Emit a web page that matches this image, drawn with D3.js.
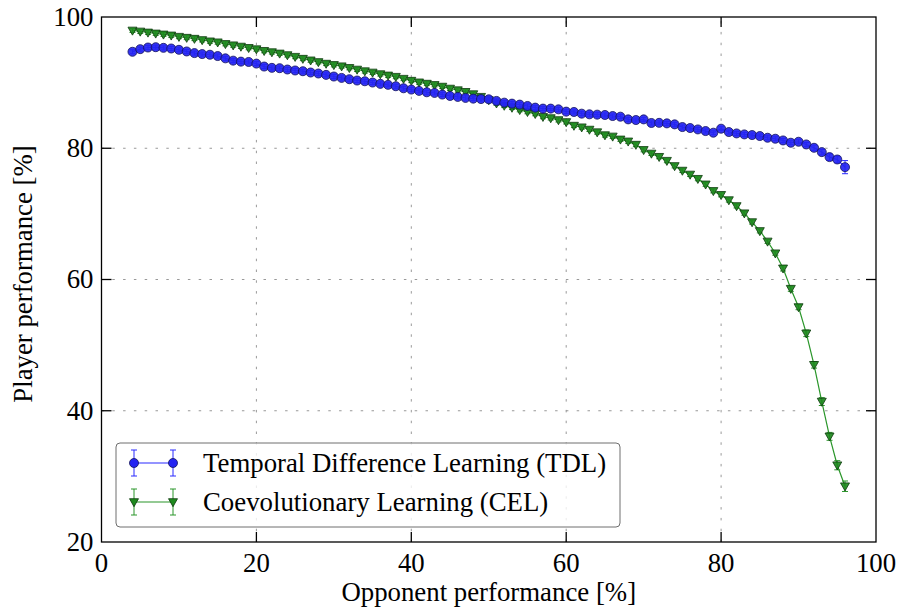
<!doctype html>
<html lang="en">
<head>
  <meta charset="utf-8">
  <title>Player vs opponent performance</title>
  <script src="https://d3js.org/d3.v7.min.js"></script>
  <style>
    body { margin: 0; background: #fff; }
    text { font-family: "Liberation Serif", "Times New Roman", serif; fill: #000; }
  </style>
</head>
<body>
<div class="chart-container"></div>
<script>
  // opponent performance [%], one point per percent
  const opponent = [
    4, 5, 6, 7, 8, 9, 10, 11, 12, 13, 14, 15, 16, 17, 18, 19, 20, 21, 22, 23, 24, 25,
    26, 27, 28, 29, 30, 31, 32, 33, 34, 35, 36, 37, 38, 39, 40, 41, 42, 43, 44, 45,
    46, 47, 48, 49, 50, 51, 52, 53, 54, 55, 56, 57, 58, 59, 60, 61, 62, 63, 64, 65,
    66, 67, 68, 69, 70, 71, 72, 73, 74, 75, 76, 77, 78, 79, 80, 81, 82, 83, 84, 85,
    86, 87, 88, 89, 90, 91, 92, 93, 94, 95, 96
  ];

  const tdl = [
    94.7, 95.1, 95.35, 95.4, 95.3, 95.2, 95.0, 94.75, 94.5, 94.35, 94.25, 94.05, 93.7, 93.35, 93.2, 93.15,
    92.9, 92.45, 92.25, 92.2, 92.0, 91.85, 91.74, 91.54, 91.39, 91.18, 90.93, 90.72, 90.52, 90.32, 90.21,
    90.01, 89.81, 89.66, 89.45, 89.14, 88.94, 88.74, 88.53, 88.43, 88.18, 87.97, 87.82, 87.67, 87.56, 87.5,
    87.46, 87.21, 86.95, 86.8, 86.65, 86.44, 86.19, 86.04, 86.04, 85.93, 85.58, 85.53, 85.27, 85.17, 85.12,
    85.07, 84.91, 84.81, 84.4, 84.3, 84.4, 83.85, 83.87, 83.79, 83.64, 83.23, 83.08, 82.87, 82.62, 82.37,
    82.98, 82.47, 82.26, 82.11, 82.01, 81.86, 81.6, 81.45, 81.19, 80.84, 80.99, 80.58, 80.07, 79.41, 78.65,
    78.29, 77.12
  ];

  const cel = [
    97.95, 97.8, 97.65, 97.5, 97.35, 97.2, 97.0, 96.85, 96.7, 96.5, 96.3, 96.15, 95.9, 95.7, 95.5, 95.3,
    95.1, 94.85, 94.65, 94.45, 94.2, 93.95, 93.65, 93.4, 93.15, 92.9, 92.7, 92.5, 92.25, 92.0, 91.75,
    91.55, 91.3, 91.1, 90.9, 90.6, 90.3, 90.05, 89.85, 89.65, 89.4, 89.1, 88.85, 88.6, 88.25, 87.85,
    87.35, 86.85, 86.5, 86.2, 85.85, 85.55, 85.25, 84.8, 84.6, 84.3, 84.0, 83.45, 83.2, 82.85, 82.45,
    82.0, 81.8, 81.35, 81.05, 80.55, 79.75, 79.2, 78.7, 78.1, 77.3, 76.6, 76.0, 75.35, 74.5, 73.5,
    72.9, 72.1, 71.2, 70.1, 68.75, 67.4, 65.8, 64.0, 61.7, 58.6, 55.8, 51.8, 47.0, 41.4, 36.1,
    31.7, 28.5
  ];

  // half widths of the error bars
  const tdlErr = [
    0.3, 0.3, 0.3, 0.3, 0.3, 0.3, 0.3, 0.3, 0.3, 0.3, 0.3, 0.3, 0.3, 0.3, 0.3, 0.3,
    0.3, 0.3, 0.3, 0.3, 0.3, 0.3, 0.3, 0.3, 0.3, 0.3, 0.3, 0.3, 0.3, 0.3, 0.3,
    0.3, 0.3, 0.3, 0.3, 0.3, 0.3, 0.3, 0.3, 0.3, 0.3, 0.3, 0.3, 0.3, 0.3, 0.3,
    0.3, 0.3, 0.3, 0.3, 0.3, 0.3, 0.3, 0.3, 0.3, 0.3, 0.3, 0.3, 0.3, 0.3, 0.3,
    0.3, 0.3, 0.3, 0.3, 0.3, 0.3, 0.3, 0.3, 0.3, 0.3, 0.3, 0.3, 0.3, 0.3, 0.3,
    0.3, 0.3, 0.3, 0.3, 0.3, 0.3, 0.3, 0.3, 0.3, 0.3, 0.3, 0.3, 0.4, 0.4, 0.5,
    0.5, 1.0
  ];

  const celErr = [
    0.3, 0.3, 0.3, 0.3, 0.3, 0.3, 0.3, 0.3, 0.3, 0.3, 0.3, 0.3, 0.3, 0.3, 0.3, 0.3,
    0.3, 0.3, 0.3, 0.3, 0.3, 0.3, 0.3, 0.3, 0.3, 0.3, 0.3, 0.3, 0.3, 0.3, 0.3,
    0.3, 0.3, 0.3, 0.3, 0.3, 0.3, 0.3, 0.3, 0.3, 0.3, 0.3, 0.3, 0.3, 0.3, 0.3,
    0.3, 0.3, 0.3, 0.3, 0.3, 0.3, 0.3, 0.3, 0.3, 0.3, 0.3, 0.3, 0.3, 0.3, 0.3,
    0.3, 0.3, 0.3, 0.3, 0.3, 0.3, 0.3, 0.3, 0.3, 0.3, 0.3, 0.3, 0.3, 0.3, 0.3,
    0.3, 0.3, 0.3, 0.3, 0.3, 0.3, 0.3, 0.3, 0.4, 0.4, 0.4, 0.5, 0.5, 0.6, 0.6,
    0.7, 0.8
  ];

  const xTicks = [0, 20, 40, 60, 80, 100];
  const yTicks = [20, 40, 60, 80, 100];
  const seriesNames = ['Temporal Difference Learning (TDL)', 'Coevolutionary Learning (CEL)'];

  const width = 897;
  const height = 610;
  const margin = { top: 17, right: 21, bottom: 68, left: 101.5 };
  const fontSize = 26.8;

  const svg = d3.select('.chart-container').append('svg')
    .attr('width', width)
    .attr('height', height);

  const x = d3.scaleLinear()
    .domain([0, 100])
    .range([margin.left, width - margin.right]);

  const y = d3.scaleLinear()
    .domain([20, 100])
    .range([height - margin.bottom, margin.top]);

  const series = [
    { name: seriesNames[0], values: tdl, err: tdlErr, colour: '#2424f2', lineColour: '#2a2aff', edge: '#14145a', marker: 'circle' },
    { name: seriesNames[1], values: cel, err: celErr, colour: '#1e8a1e', lineColour: '#2a962a', edge: '#0d3a0d', marker: 'triangle' }
  ];
  series.forEach(s => {
    s.points = opponent.map((o, i) => ({ x: o, y: s.values[i], e: s.err[i] }));
  });

  // dotted grid
  const grid = svg.append('g').attr('class', 'grid')
    .attr('stroke', '#999')
    .attr('stroke-width', 1)
    .attr('stroke-dasharray', '2.5,8.3');
  grid.selectAll('line.gx')
    .data(xTicks.slice(1, -1))
    .enter()
    .append('line')
    .attr('x1', d => x(d)).attr('x2', d => x(d))
    .attr('y1', y(20)).attr('y2', y(100));
  grid.selectAll('line.gy')
    .data(yTicks.slice(1, -1))
    .enter()
    .append('line')
    .attr('y1', d => y(d)).attr('y2', d => y(d))
    .attr('x1', x(0)).attr('x2', x(100));

  const line = d3.line().x(d => x(d.x)).y(d => y(d.y));

  const markerPath = (kind) => kind === 'circle'
    ? d3.symbol().type(d3.symbolCircle).size(64)()
    : 'M-4.5,-3.3L4.5,-3.3L0,4.7Z';

  const drawErr = (g, pts, colour) => {
    const cap = 3;
    pts.forEach(p => {
      const y0 = y(p.y - p.e);
      const y1 = y(p.y + p.e);
      g.append('line').attr('x1', x(p.x)).attr('x2', x(p.x)).attr('y1', y0).attr('y2', y1)
        .attr('stroke', colour).attr('stroke-width', 1);
      g.append('line').attr('x1', x(p.x) - cap).attr('x2', x(p.x) + cap).attr('y1', y0).attr('y2', y0)
        .attr('stroke', colour).attr('stroke-width', 1);
      g.append('line').attr('x1', x(p.x) - cap).attr('x2', x(p.x) + cap).attr('y1', y1).attr('y2', y1)
        .attr('stroke', colour).attr('stroke-width', 1);
    });
  };

  // CEL first, TDL drawn over it
  series.slice().reverse().forEach(s => {
    const g = svg.append('g').attr('class', 'series');
    g.append('path')
      .datum(s.points)
      .attr('fill', 'none')
      .attr('stroke', s.lineColour)
      .attr('stroke-width', 1.2)
      .attr('d', line);
    drawErr(g, s.points, s.lineColour);
    g.selectAll('path.marker')
      .data(s.points)
      .enter()
      .append('path')
      .attr('class', 'marker')
      .attr('transform', d => `translate(${x(d.x)},${y(d.y)})`)
      .attr('d', markerPath(s.marker))
      .attr('fill', s.colour)
      .attr('fill-opacity', 0.92)
      .attr('stroke', s.edge)
      .attr('stroke-width', 0.8);
  });

  // frame and inward ticks on all sides
  const tickLen = 10;
  const axes = svg.append('g').attr('class', 'axes').attr('stroke', '#000').attr('stroke-width', 1.3);
  axes.append('rect')
    .attr('x', x(0)).attr('y', y(100))
    .attr('width', x(100) - x(0)).attr('height', y(20) - y(100))
    .attr('fill', 'none');
  axes.selectAll('line.tx')
    .data(xTicks.slice(1, -1))
    .enter()
    .append('line')
    .attr('x1', d => x(d)).attr('x2', d => x(d))
    .attr('y1', y(20)).attr('y2', y(20) - tickLen);
  axes.selectAll('line.tx2')
    .data(xTicks.slice(1, -1))
    .enter()
    .append('line')
    .attr('x1', d => x(d)).attr('x2', d => x(d))
    .attr('y1', y(100)).attr('y2', y(100) + tickLen);
  axes.selectAll('line.ty')
    .data(yTicks.slice(1, -1))
    .enter()
    .append('line')
    .attr('y1', d => y(d)).attr('y2', d => y(d))
    .attr('x1', x(0)).attr('x2', x(0) + tickLen);
  axes.selectAll('line.ty2')
    .data(yTicks.slice(1, -1))
    .enter()
    .append('line')
    .attr('y1', d => y(d)).attr('y2', d => y(d))
    .attr('x1', x(100)).attr('x2', x(100) - tickLen);

  svg.selectAll('text.xtick')
    .data(xTicks)
    .enter()
    .append('text')
    .attr('class', 'xtick')
    .attr('x', d => x(d))
    .attr('y', y(20) + 30)
    .style('text-anchor', 'middle')
    .style('font-size', fontSize + 'px')
    .text(d => d);

  svg.selectAll('text.ytick')
    .data(yTicks)
    .enter()
    .append('text')
    .attr('class', 'ytick')
    .attr('x', x(0) - 8)
    .attr('y', d => y(d))
    .attr('dy', '0.33em')
    .style('text-anchor', 'end')
    .style('font-size', fontSize + 'px')
    .text(d => d);

  svg.append('text')
    .attr('x', (x(0) + x(100)) / 2)
    .attr('y', height - 9)
    .style('text-anchor', 'middle')
    .style('font-size', fontSize + 'px')
    .text('Opponent performance [%]');

  svg.append('text')
    .attr('transform', 'translate(32,274) rotate(-90)')
    .style('text-anchor', 'middle')
    .style('font-size', fontSize + 'px')
    .text('Player performance [%]');

  // legend
  const legend = svg.append('g').attr('class', 'legend').attr('transform', 'translate(116,443)');
  legend.append('rect')
    .attr('width', 504).attr('height', 84)
    .attr('rx', 4).attr('ry', 4)
    .attr('fill', '#fff').attr('fill-opacity', 0.8)
    .attr('stroke', '#6e6e6e').attr('stroke-width', 1);

  series.forEach((s, i) => {
    const row = legend.append('g').attr('transform', `translate(0,${20 + i * 39})`);
    const hx = [18, 57];
    row.append('line')
      .attr('x1', hx[0]).attr('x2', hx[1]).attr('y1', 0).attr('y2', 0)
      .attr('stroke', s.lineColour).attr('stroke-width', 1.2);
    hx.forEach(px => {
      row.append('line').attr('x1', px).attr('x2', px).attr('y1', -13).attr('y2', 13)
        .attr('stroke', s.lineColour).attr('stroke-width', 1);
      row.append('line').attr('x1', px - 3).attr('x2', px + 3).attr('y1', -13).attr('y2', -13)
        .attr('stroke', s.lineColour).attr('stroke-width', 1);
      row.append('line').attr('x1', px - 3).attr('x2', px + 3).attr('y1', 13).attr('y2', 13)
        .attr('stroke', s.lineColour).attr('stroke-width', 1);
      row.append('path')
        .attr('transform', `translate(${px},0)`)
        .attr('d', markerPath(s.marker))
        .attr('fill', s.colour)
        .attr('stroke', s.edge)
        .attr('stroke-width', 0.8);
    });
    row.append('text')
      .attr('x', 87)
      .attr('y', 0)
      .attr('dy', '0.33em')
      .style('font-size', fontSize + 'px')
      .text(s.name);
  });
</script>
</body>
</html>
